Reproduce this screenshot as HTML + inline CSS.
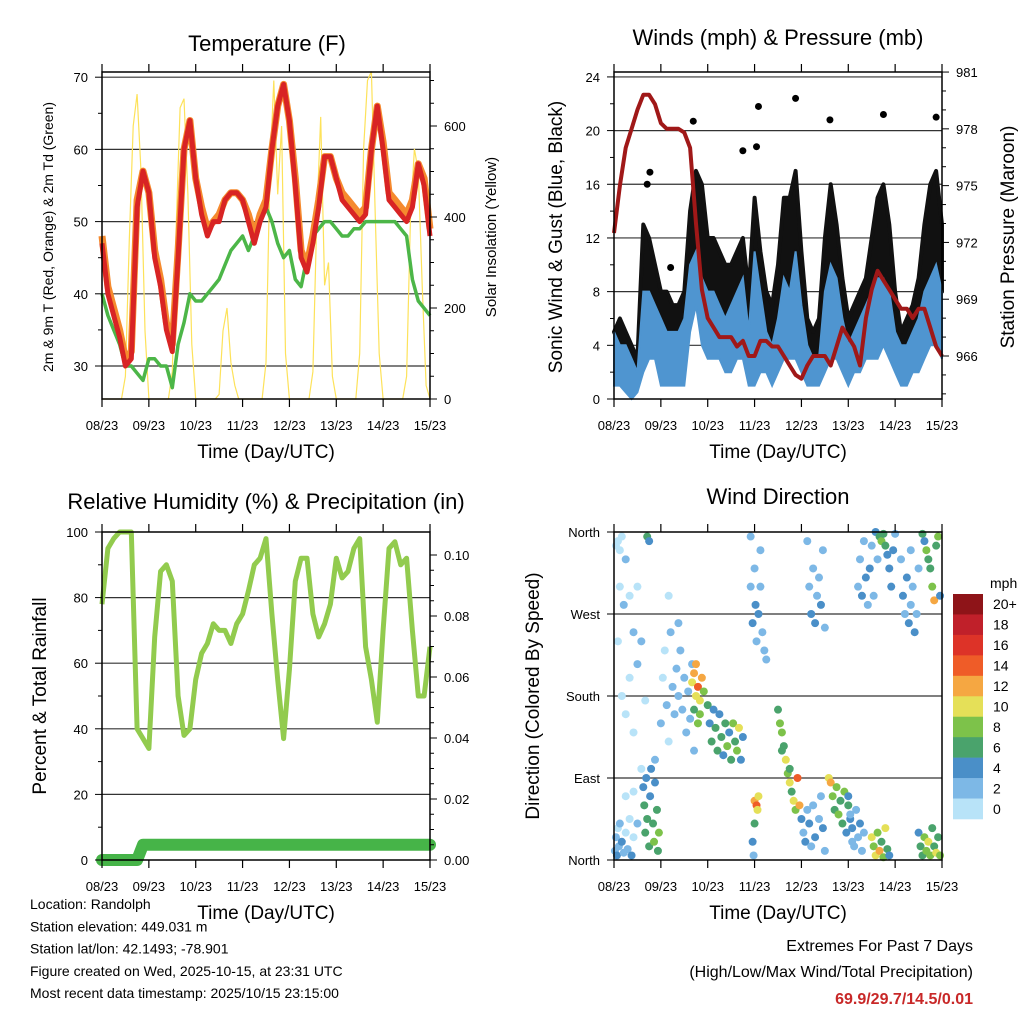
<!DOCTYPE html>
<html><head><meta charset="utf-8"><style>
html,body{margin:0;padding:0;background:#fff}
svg{display:block;font-family:"Liberation Sans",Arial,sans-serif}
</style></head><body>
<svg id="chart" width="1024" height="1024" viewBox="0 0 1024 1024" xmlns="http://www.w3.org/2000/svg"></svg>
<script>
// ---------- DATA (3-hourly from 08/23 00Z to 15/23 00Z unless noted) ----------
const xTickLabels = ['08/23','09/23','10/23','11/23','12/23','13/23','14/23','15/23'];
const tempRed = [47,40,37,34,30,31,52,57,54,45,41,35,32,45,60,64,56,51,48,50,50,53,54,54,53,50,47,50,52,60,66,69,64,55,45,43,47,52,59,59,56,53,52,51,50,51,60,66,60,53,52,51,50,52,58,55,48];
const tempOrange = [48,41,38,35,31,32,53,57,54,46,42,36,33,46,60,64,56,52,49,50,51,53,54,54,53,51,48,51,53,60,66,69,64,56,46,44,48,53,59,59,56,54,53,52,51,52,60,66,61,54,53,52,51,53,58,56,49];
const dewGreen = [40,37,35,33,30,30,29,28,31,31,30,30,27,33,36,40,39,39,40,41,42,44,46,47,48,46,48,51,52,50,47,45,46,42,41,45,48,49,50,50,49,48,48,49,49,50,50,50,50,50,50,49,48,42,39,38,37];
// solar insolation, 2-hourly
const solar = [0,0,0,0,0,0,50,350,600,670,500,150,
               0,0,0,0,0,0,60,380,640,660,450,120,
               0,0,0,0,0,0,10,150,200,80,30,0,
               0,0,0,0,0,0,80,500,700,450,600,100,
               0,0,0,0,0,0,60,400,620,250,300,50,
               0,0,0,0,0,0,100,550,700,720,400,100,
               0,0,0,0,0,0,50,400,550,500,250,30,0];
const windLow  = [1,1,0.5,0,0.5,2,3,3,1,1,1,1,1,5,7,4,3,3,3,2,2,3,3,1,1,2,2,1,2,3,3,3,2,1,1,1,2,3,3,2,1,2,2,3,3,3,4,3,2,1,1,2,2,3,4,4,3];
const windHigh = [5,4,4,3,2,8,8,7,6,5,5,5,6,10,11,9,8,8,7,6,7,8,9,5,11,8,5,4,6,9,8,11,7,4,3,3,8,10,9,6,4,5,6,7,8,9,9,8,5,4,4,5,6,8,9,10,8];
const gustHigh = [5,6,5,4,3,13,12,10,8,8,7,7,8,14,17,16,12,12,11,10,10,11,12,8,15,11,8,7,10,15,15,17,11,6,5,6,12,16,13,9,6,7,8,9,12,15,16,13,8,5,6,7,9,13,16,17,13];
const gustPeakHours = [17,18.4,29,40.6,66,73,74,93,110.6,138,165];
const gustPeakValues = [16,16.9,9.8,20.7,18.5,18.8,21.8,22.4,20.8,21.2,21];
const pressure = [972.5,975,977,978,979,979.8,979.8,979.3,978.3,978,978,978,977.8,977,973,969.5,968,967.5,967,967,967,966.5,966.8,966,966,966.8,966.8,966.5,966.5,966,965.5,965,964.8,965.5,966,966,966,965.5,966.5,967.5,967,966.5,965.5,968,969.5,970.5,970,969.5,969,968.5,968.5,968,968.5,968.5,967.5,966.5,966];
const rh = [78,95,98,100,100,100,40,37,34,68,88,90,85,50,38,40,55,63,66,72,70,70,66,72,75,82,90,92,98,75,55,37,58,85,92,92,75,68,72,78,92,86,88,95,98,65,55,42,70,95,97,90,92,70,50,50,65];
const precip = [0,0,0,0,0,0,0,0.005,0.005,0.005,0.005,0.005,0.005,0.005,0.005,0.005,0.005,0.005,0.005,0.005,0.005,0.005,0.005,0.005,0.005,0.005,0.005,0.005,0.005,0.005,0.005,0.005,0.005,0.005,0.005,0.005,0.005,0.005,0.005,0.005,0.005,0.005,0.005,0.005,0.005,0.005,0.005,0.005,0.005,0.005,0.005,0.005,0.005,0.005,0.005,0.005,0.005];
// wind direction scatter: hour, direction (deg), speed (mph)
const dirPts = [[0.5,10,2],[1,25,3],[1.5,5,4],[2,35,1],[2.5,15,3],[3,40,2],[4,20,4],[5,8,3],[6,30,1],[7,12,2],[8,45,1],[9,5,4],[10,25,1],
[1,345,0],[2,350,0],[3,340,1],[4,355,0],[6,330,2],[3,300,1],[5,280,2],[8,290,1],[10,250,2],[12,300,1],
[2,240,0],[4,180,1],[6,160,0],[8,200,1],[10,140,0],[12,215,2],[14,240,2],[16,175,1],[14,100,1],[10,75,0],[6,70,1],[12,40,2],
[15,80,5],[15.5,60,6],[16,30,7],[16.5,90,4],[17,45,6],[18,15,7],[18.5,70,5],[19,100,4],[20,40,6],[20.5,20,8],[21,85,5],[22,55,6],[22.5,10,7],[23,30,8],[21,110,3],[17,355,6],[18,350,5],
[24,150,2],[25,200,1],[26,230,1],[27,170,2],[28,130,1],[29,250,2],[30,190,2],[31,160,3],[32,210,2],[33,180,3],[34,230,2],[35,165,3],[36,200,3],[37,140,3],[38,185,2],[39,155,2],[40,215,2],[41,120,2],[33,260,2],[28,290,1],
[40,195,10],[41,205,12],[42,180,11],[43,190,14],[44,175,10],[42,215,13],[45,200,12],[44,160,8],[46,185,9],[41,165,7],[43,150,8],
[48,170,7],[49,150,5],[50,130,6],[51,165,4],[52,145,7],[53,120,6],[54,160,4],[55,135,7],[56,115,5],[57,150,6],[58,125,8],[59,140,4],[60,110,6],[61,150,9],[62,130,7],[63,120,8],[64,145,10],[65,110,5],[66,135,4],
[70,300,3],[71,260,4],[72,320,2],[72.5,280,4],[73,240,3],[74,270,4],[75,300,3],[76,250,2],[77,230,3],[78,220,2],[75,340,2],[70,355,2],
[72,65,12],[73,60,15],[74,70,11],[73.5,55,10],[72,40,6],[71,20,4],[71.5,5,3],
[84,165,7],[85,150,8],[86,140,9],[87,125,7],[88,110,10],[89,95,8],[90,85,11],[91,75,7],[92,65,10],[93,55,8],[94,90,15],[95,60,12],[86,120,6],[90,100,6],
[96,45,4],[97,30,3],[98,20,4],[99,55,2],[100,40,4],[101,15,3],[102,60,2],[103,25,4],[105,45,3],[106,70,2],[107,35,4],[108,10,3],
[100,300,3],[101,270,4],[102,320,2],[103,260,4],[104,290,3],[105,310,2],[106,280,4],[107,340,2],[108,255,3],[99,350,2],
[110,90,11],[111,85,12],[112,70,8],[113,55,7],[114,80,9],[115,50,8],[116,65,7],[117,40,6],[118,75,8],[119,30,5],[120,60,6],[121,45,4],[122,20,3],
[120,70,4],[121,50,3],[122,35,4],[123,15,3],[124,55,2],[125,25,3],[126,40,4],[127,10,2],[128,30,3],
[125,300,3],[126,330,2],[127,290,4],[128,350,2],[129,310,4],[130,280,3],[131,320,4],[132,345,3],[133,290,2],[134,360,4],[135,330,3],
[132,25,10],[133,15,8],[134,5,11],[135,30,9],[136,10,12],[137,20,7],[138,3,8],[139,35,10],[140,12,6],[141,5,5],
[136,355,6],[137,350,8],[138,358,7],[139,345,6],[140,335,5],[141,320,4],[142,300,4],[143,340,5],[144,358,3],
[148,290,4],[149,270,3],[150,310,4],[151,260,4],[152,280,3],[153,300,2],[154,250,4],[155,270,3],[156,320,2],[147,330,2],[152,340,3],
[156,30,5],[157,15,6],[158,5,7],[159,25,8],[160,10,9],[161,20,10],[162,5,8],[163,35,6],[164,15,7],[165,8,10],[166,25,6],[167,5,8],
[158,358,6],[159,350,5],[160,340,8],[161,330,6],[162,320,7],[163,300,9],[164,285,12],[165,345,7],[166,355,8],[167,290,5]];
const speedBinLabels = ['20+','18','16','14','12','10','8','6','4','2','0'];
const speedColors = ['#8e1418','#c0202a','#dd3328','#ef5c28','#f5a742','#e5e058','#7dc24a','#4aa36c','#4a8fc8','#7db8e6','#b8e3f8'];

// ---------- HELPERS ----------
const NS='http://www.w3.org/2000/svg';
const svg=document.getElementById('chart');
function mk(tag,attrs,parent){const e=document.createElementNS(NS,tag);for(const k in attrs)e.setAttribute(k,attrs[k]);(parent||svg).appendChild(e);return e;}
function txt(s,x,y,size,anchor,parent,extra){const e=mk('text',Object.assign({x:x,y:y,'font-size':size,'text-anchor':anchor||'middle',fill:'#000'},extra||{}),parent);e.textContent=s;return e;}
function poly(pts){return pts.map(p=>p[0].toFixed(1)+','+p[1].toFixed(1)).join(' ');}

function frame(P,name){
  const g=mk('g',{});
  
  
  mk('rect',{x:P.x0,y:P.y0,width:P.x1-P.x0,height:P.y1-P.y0,fill:'none',stroke:'#000','stroke-width':1.5},g);
  return g;
}
function xAxis(P,name){
  const g=mk('g',{});
  
  
  for(let k=0;k<xTickLabels.length;k++){
    const x=P.x0+k*(P.x1-P.x0)/7;
    mk('line',{x1:x,y1:P.y1,x2:x,y2:P.y1+8,stroke:'#000','stroke-width':1.2},g);
    mk('line',{x1:x,y1:P.y0,x2:x,y2:P.y0-8,stroke:'#000','stroke-width':1.2},g);
    const t=txt(xTickLabels[k],x,P.y1+31,13,'middle',g);
    
    
  }
  const tt=txt('Time (Day/UTC)',(P.x0+P.x1)/2,P.y1+59,19,'middle',g);
  
  
}
function hx(P,h){return P.x0+h/168*(P.x1-P.x0);}
function grid(P,ys,g){ys.forEach(y=>mk('line',{x1:P.x0,y1:y,x2:P.x1,y2:y,stroke:'#333','stroke-width':1.2},g));}
function yTicks(P,vals,labels,yf,side,g,minors){
  vals.forEach((v,i)=>{const y=yf(v);
    if(side==='left'){mk('line',{x1:P.x0,y1:y,x2:P.x0-7,y2:y,stroke:'#000'},g);const t=txt(labels[i],P.x0-14,y+5,13,'end',g);}
    else{mk('line',{x1:P.x1,y1:y,x2:P.x1+7,y2:y,stroke:'#000'},g);const t=txt(labels[i],P.x1+14,y+5,13,'start',g);}
  });
  (minors||[]).forEach(v=>{const y=yf(v);
    if(side==='left')mk('line',{x1:P.x0,y1:y,x2:P.x0-4,y2:y,stroke:'#000'},g);
    else mk('line',{x1:P.x1,y1:y,x2:P.x1+4,y2:y,stroke:'#000'},g);});
}
function vtitle(s,x,y,size,name){const t=txt(s,x,y,size,'middle',svg,{transform:'rotate(-90 '+x+' '+y+')'});}

// ---------- PANEL 1: TEMPERATURE ----------
const P1={x0:102,x1:430,y0:72,y1:399};
const yT=v=>366-(v-30)*7.22, yS=v=>399-v*0.455;
{
  const g=mk('g',{});
  grid(P1,[30,40,50,60,70].map(yT),g);
  const sp=mk('polyline',{points:poly(solar.map((v,i)=>[hx(P1,i*2),yS(v)])),fill:'none',stroke:'#fde25a','stroke-width':1.2},g);
  
  const dp=mk('polyline',{points:poly(dewGreen.map((v,i)=>[hx(P1,i*3),yT(v)])),fill:'none',stroke:'#4cb648','stroke-width':3.5,'stroke-linejoin':'round'},g);
  
  const op=mk('polyline',{points:poly(tempOrange.map((v,i)=>[hx(P1,i*3),yT(v)])),fill:'none',stroke:'#f58a2e','stroke-width':7,'stroke-linejoin':'round'},g);
  
  const rp=mk('polyline',{points:poly(tempRed.map((v,i)=>[hx(P1,i*3),yT(v)])),fill:'none',stroke:'#d82424','stroke-width':5,'stroke-linejoin':'round'},g);
  
  yTicks(P1,[30,40,50,60,70],['30','40','50','60','70'],yT,'left',g,[35,45,55,65]);
  yTicks(P1,[0,200,400,600],['0','200','400','600'],yS,'right',g,[50,100,150,250,300,350,450,500,550,650,700]);
  frame(P1,'temperature');
  xAxis(P1,'temperature');
  const t=txt('Temperature (F)',267,51,22,'middle');
  vtitle('2m & 9m T (Red, Orange) & 2m Td (Green)',53,237,14,'temperature-y-axis-title');
  vtitle('Solar Insolation (Yellow)',496,237,15,'solar-y-axis-title');
}

// ---------- PANEL 2: WINDS ----------
const P2={x0:614,x1:942,y0:72,y1:399};
const yW=v=>399-v*13.42, yP=v=>356-(v-966)*18.93;
{
  const g=mk('g',{});
  grid(P2,[4,8,12,16,20,24].map(yW),g);
  const gb=mk('polygon',{points:poly(gustHigh.map((v,i)=>[hx(P2,i*3),yW(v)]).concat(windHigh.map((v,i)=>[hx(P2,i*3),yW(v)]).reverse())),fill:'#111',stroke:'#111','stroke-width':4,'stroke-linejoin':'round'},g);
  
  gustPeakHours.forEach((h,i)=>{const c=mk('circle',{cx:hx(P2,h),cy:yW(gustPeakValues[i]),r:3.5,fill:'#000'},g);
    });
  const wb=mk('polygon',{points:poly(windHigh.map((v,i)=>[hx(P2,i*3),yW(v)]).concat(windLow.map((v,i)=>[hx(P2,i*3),yW(v)]).reverse())),fill:'#4f95d0',stroke:'#4f95d0','stroke-width':2},g);
  
  const pl=mk('polyline',{points:poly(pressure.map((v,i)=>[hx(P2,i*3),yP(v)])),fill:'none',stroke:'#a01818','stroke-width':4,'stroke-linejoin':'round'},g);
  
  yTicks(P2,[0,4,8,12,16,20,24],['0','4','8','12','16','20','24'],yW,'left',g,[2,6,10,14,18,22]);
  yTicks(P2,[966,969,972,975,978,981],['966','969','972','975','978','981'],yP,'right',g,[964,965,967,968,970,971,973,974,976,977,979,980]);
  frame(P2,'winds');
  xAxis(P2,'winds');
  const t=txt('Winds (mph) & Pressure (mb)',778,45,22,'middle');
  vtitle('Sonic Wind & Gust (Blue, Black)',562,237,19,'wind-y-axis-title');
  vtitle('Station Pressure (Maroon)',1014,237,19,'pressure-y-axis-title');
}

// ---------- PANEL 3: RH ----------
const P3={x0:102,x1:430,y0:532,y1:860};
const yR=v=>860-v*3.28, yPr=v=>860-v*3050;
{
  const g=mk('g',{});
  grid(P3,[20,40,60,80].map(yR),g);
  const rl=mk('polyline',{points:poly(rh.map((v,i)=>[hx(P3,i*3),yR(v)])),fill:'none',stroke:'#92cb4e','stroke-width':5,'stroke-linejoin':'round'},g);
  
  const pr=mk('polyline',{points:poly(precip.map((v,i)=>[hx(P3,i*3),yPr(v)])),fill:'none',stroke:'#46b448','stroke-width':12,'stroke-linecap':'round','stroke-linejoin':'round'},g);
  
  yTicks(P3,[0,20,40,60,80,100],['0','20','40','60','80','100'],yR,'left',g,[10,30,50,70,90]);
  yTicks(P3,[0,0.02,0.04,0.06,0.08,0.10],['0.00','0.02','0.04','0.06','0.08','0.10'],yPr,'right',g,[0.005,0.01,0.015,0.025,0.03,0.035,0.045,0.05,0.055,0.065,0.07,0.075,0.085,0.09,0.095]);
  frame(P3,'humidity');
  xAxis(P3,'humidity');
  const t=txt('Relative Humidity (%) & Precipitation (in)',266,509,22,'middle');
  vtitle('Percent & Total Rainfall',46,696,19,'humidity-y-axis-title');
}

// ---------- PANEL 4: WIND DIRECTION ----------
const P4={x0:614,x1:942,y0:532,y1:860};
const yD=d=>860-d*82/90;
function binOf(s){let b=Math.floor(s/2);if(b>10)b=10;return 10-b;}
{
  const g=mk('g',{});
  grid(P4,[90,180,270].map(yD),g);
  dirPts.forEach(p=>{const c=mk('circle',{cx:hx(P4,p[0]),cy:yD(p[1]),r:4,fill:speedColors[binOf(p[2])]},g);
    });
  yTicks(P4,[0,90,180,270,360],['North','East','South','West','North'],yD,'left',g,[]);
  frame(P4,'wind-direction');
  xAxis(P4,'wind-direction');
  const t=txt('Wind Direction',778,504,22,'middle');
  vtitle('Direction (Colored By Speed)',539,696,19,'direction-y-axis-title');
  const lg=mk('g',{});
  const bh=225/11;
  speedColors.forEach((c,i)=>{mk('rect',{x:953,y:594+i*bh,width:30,height:bh+0.3,fill:c},lg);
    const t=txt(speedBinLabels[i],993,594+i*bh+bh/2+5,14,'start',lg);});
  const m=txt('mph',990,588,14,'start',lg);
}

// ---------- FOOTER TEXT ----------
{
  const g=mk('g',{});
  ['Location: Randolph','Station elevation: 449.031 m','Station lat/lon: 42.1493; -78.901','Figure created on Wed, 2025-10-15, at 23:31 UTC','Most recent data timestamp: 2025/10/15 23:15:00']
   .forEach((s,i)=>txt(s,30,909+i*22.3,14,'start',g));
  const e=mk('g',{});
  txt('Extremes For Past 7 Days',973,951,16,'end',e);
  txt('(High/Low/Max Wind/Total Precipitation)',973,977,16,'end',e);
  txt('69.9/29.7/14.5/0.01',973,1004,16,'end',e,{fill:'#c82828','font-weight':'bold'});
}
</script>
</body></html>
